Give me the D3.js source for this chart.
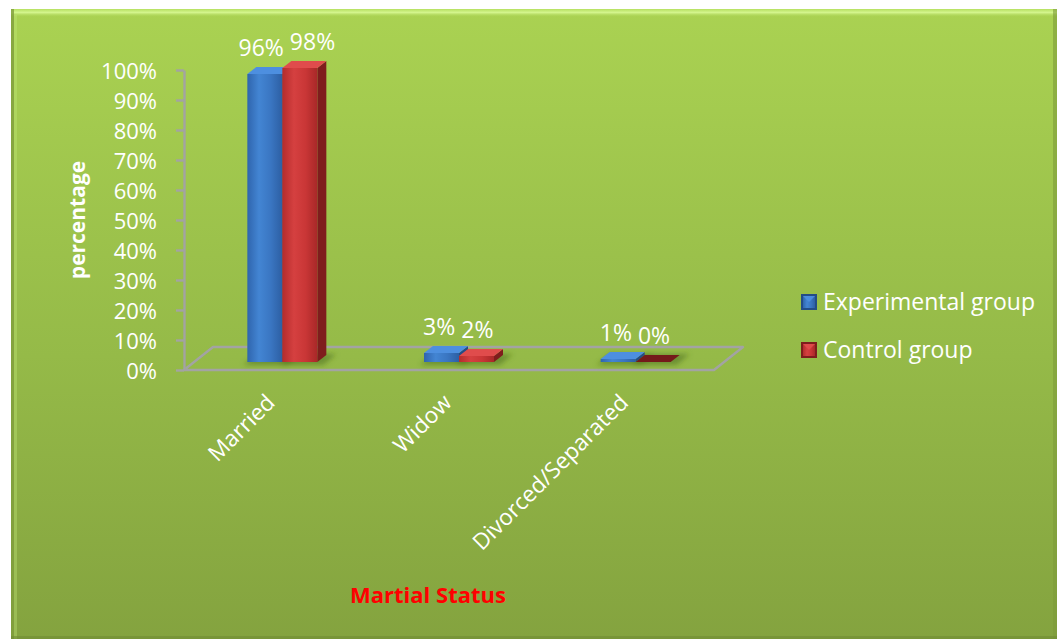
<!DOCTYPE html>
<html>
<head>
<meta charset="utf-8">
<script src="https://cdn.jsdelivr.net/npm/d3@7"></script>
<style>
  html, body { margin: 0; padding: 0; background: #ffffff; }
  svg { display: block; }
  text { font-family: "Open Sans", Lato, sans-serif; }
</style>
</head>
<body>
<svg id="chart" width="1057" height="639"></svg>
<script>
// Marital status of the two study groups (percent)
const categories = ["Married", "Widow", "Divorced/Separated"];
const experimental = [96, 3, 1];
const control = [98, 2, 0];
const seriesNames = ["Experimental group", "Control group"];
const yTicks = [0, 10, 20, 30, 40, 50, 60, 70, 80, 90, 100];
const axisTitle = "percentage";
const chartTitle = "Martial Status";

const W = 1057, H = 639;
const FONT = "'Open Sans', Lato, sans-serif";
const svg = d3.select("#chart");
const defs = svg.append("defs");

// ---- panel background ----
const bg = defs.append("linearGradient").attr("id", "bg")
  .attr("x1", 0).attr("y1", 0).attr("x2", 0).attr("y2", 1);
bg.append("stop").attr("offset", "0%").attr("stop-color", "#aad252");
bg.append("stop").attr("offset", "55%").attr("stop-color", "#95ba48");
bg.append("stop").attr("offset", "100%").attr("stop-color", "#84a33f");

const panel = { x: 11, y: 9, w: W - 11, h: H - 9 };
svg.append("rect").attr("x", panel.x).attr("y", panel.y)
  .attr("width", panel.w).attr("height", panel.h).attr("fill", "url(#bg)");
// bevelled rim
const topRim = defs.append("linearGradient").attr("id", "topRim")
  .attr("x1", 0).attr("y1", 0).attr("x2", 0).attr("y2", 1);
topRim.append("stop").attr("offset", "0%").attr("stop-color", "#b6e060");
topRim.append("stop").attr("offset", "45%").attr("stop-color", "#d4f58e");
topRim.append("stop").attr("offset", "100%").attr("stop-color", "#acd454").attr("stop-opacity", 0);
svg.append("rect").attr("x", panel.x).attr("y", panel.y)
  .attr("width", panel.w).attr("height", 8).attr("fill", "url(#topRim)");
svg.append("rect").attr("x", panel.x).attr("y", panel.y)
  .attr("width", 3).attr("height", panel.h).attr("fill", "#7f9d3c").attr("opacity", 0.8);
svg.append("rect").attr("x", panel.x + 3).attr("y", panel.y + 6)
  .attr("width", 3).attr("height", panel.h).attr("fill", "#c4e87a").attr("opacity", 0.35);
svg.append("rect").attr("x", W - 4).attr("y", panel.y)
  .attr("width", 4).attr("height", panel.h).attr("fill", "#7d9b3a").attr("opacity", 0.6);
svg.append("rect").attr("x", panel.x).attr("y", H - 3)
  .attr("width", panel.w).attr("height", 3).attr("fill", "#6f8c33").attr("opacity", 0.6);

// ---- scales ----
const floorFront = { x0: 184, x1: 714, y: 370 };
const floorDepth = { dx: 29, dy: -23 };
const barOffset = { dx: 10, dy: -8 };   // bar front face inside the floor
const barDepth = { dx: 9, dy: -7 };

const x = d3.scaleBand().domain(categories).range([floorFront.x0, floorFront.x1]);
const y = d3.scaleLinear().domain([0, 100]).range([floorFront.y, 70]);
const pairWidth = 70;
const xs = d3.scaleBand().domain([0, 1]).range([0, pairWidth]);

// ---- floor ----
const gridColor = "#a3a3a3";
const floorPts = [
  [floorFront.x0, floorFront.y],
  [floorFront.x1, floorFront.y],
  [floorFront.x1 + floorDepth.dx, floorFront.y + floorDepth.dy],
  [floorFront.x0 + floorDepth.dx, floorFront.y + floorDepth.dy]
];
svg.append("polygon").attr("points", floorPts.map(p => p.join(",")).join(" "))
  .attr("fill", "none").attr("stroke", gridColor).attr("stroke-width", 2.4)
  .attr("stroke-linejoin", "round");

// ---- value axis ----
const axis = d3.axisLeft(y).tickValues(yTicks)
  .tickFormat(d => d + "%").tickSize(8).tickSizeOuter(0).tickPadding(19);
const axG = svg.append("g").attr("transform", `translate(${floorFront.x0},0)`).call(axis);
axG.select(".domain").attr("stroke", gridColor).attr("stroke-width", 2.4);
axG.selectAll(".tick line").attr("stroke", gridColor).attr("stroke-width", 2.4);
axG.selectAll(".tick text").attr("fill", "#ffffff").attr("font-size", 22)
  .attr("font-family", FONT).attr("dy", "0.38em");

// ---- bars ----
const palette = [
  { front: ["#2f65ad", "#4385d3", "#3a76c2", "#2d5fa3"], top: "#4d8fe0", side: "#234d87", dark: "#1f4478" },
  { front: ["#b42c2c", "#d54040", "#c93636", "#a82828"], top: "#e04c4c", side: "#7f1d1d", dark: "#741a1a" }
];
palette.forEach((p, i) => {
  const g = defs.append("linearGradient").attr("id", "front" + i)
    .attr("x1", 0).attr("y1", 0).attr("x2", 1).attr("y2", 0);
  p.front.forEach((c, k) => g.append("stop")
    .attr("offset", (k / (p.front.length - 1) * 100) + "%").attr("stop-color", c));
});
const blur = defs.append("filter").attr("id", "shadowBlur")
  .attr("x", "-50%").attr("y", "-50%").attr("width", "200%").attr("height", "200%");
blur.append("feGaussianBlur").attr("stdDeviation", 2.5);

const bars = [];
categories.forEach((c, ci) => {
  [experimental[ci], control[ci]].forEach((v, si) => {
    const x0 = x(c) + (x.bandwidth() - pairWidth) / 2 + xs(si) + barOffset.dx;
    const x1 = x0 + xs.bandwidth();
    const yb = y(0) + barOffset.dy;
    const yt = y(v) + barOffset.dy;
    bars.push({ c, ci, si, v, x0, x1, yb, yt });
  });
});

const pts = arr => arr.map(p => p.join(",")).join(" ");
const shadowG = svg.append("g").attr("filter", "url(#shadowBlur)");
const barG = svg.append("g");

bars.forEach(b => {
  const p = palette[b.si];
  const dx = barDepth.dx, dy = barDepth.dy;
  // soft footprint shadow
  shadowG.append("polygon")
    .attr("points", pts([
      [b.x0 - 4, b.yb + 3], [b.x1 + 6, b.yb + 3],
      [b.x1 + dx + 10, b.yb + dy - 1], [b.x0 + dx, b.yb + dy - 1]
    ]))
    .attr("fill", "#4d6e1c").attr("opacity", 0.55);
  // side face
  barG.append("polygon")
    .attr("points", pts([[b.x1, b.yb], [b.x1 + dx, b.yb + dy], [b.x1 + dx, b.yt + dy], [b.x1, b.yt]]))
    .attr("fill", p.side);
  // front face
  barG.append("rect").attr("x", b.x0).attr("y", b.yt)
    .attr("width", b.x1 - b.x0).attr("height", Math.max(0, b.yb - b.yt))
    .attr("fill", `url(#front${b.si})`);
  // top face
  barG.append("polygon")
    .attr("points", pts([[b.x0, b.yt], [b.x1, b.yt], [b.x1 + dx, b.yt + dy], [b.x0 + dx, b.yt + dy]]))
    .attr("fill", b.v === 0 ? p.dark : p.top);
});

// ---- value labels (pushed apart when a pair would overlap) ----
const labelG = svg.append("g");
categories.forEach((c, ci) => {
  const pair = bars.filter(b => b.ci === ci);
  const texts = pair.map(b => labelG.append("text")
    .attr("y", b.yt - 18)
    .attr("text-anchor", "middle").attr("fill", "#ffffff").attr("font-size", 23)
    .text(b.v + "%"));
  const widths = texts.map(t => t.node().getComputedTextLength());
  let cx = pair.map(b => (b.x0 + b.x1) / 2 - 2);
  const need = (widths[0] + widths[1]) / 2 + 6;
  const deficit = need - (cx[1] - cx[0]);
  if (deficit > 0) { cx[0] -= deficit * 0.1; cx[1] += deficit * 0.9; }
  texts.forEach((t, i) => t.attr("x", cx[i]));
});

// ---- category labels ----
categories.forEach(c => {
  const ax = x(c) + x.bandwidth() / 2 + 4;
  const ay = 404;
  svg.append("text")
    .attr("transform", `translate(${ax},${ay}) rotate(-45)`)
    .attr("text-anchor", "end").attr("fill", "#ffffff").attr("font-size", 22.5)
    .text(c);
});

// ---- axis title ----
svg.append("text")
  .attr("transform", `translate(85,${(y(0) + y(100)) / 2}) rotate(-90)`)
  .attr("text-anchor", "middle").attr("fill", "#ffffff")
  .attr("font-size", 21).attr("font-weight", "bold")
  .text(axisTitle);

// ---- chart title ----
svg.append("text")
  .attr("x", 428).attr("y", 603)
  .attr("text-anchor", "middle").attr("fill", "#ff0000")
  .attr("font-size", 22).attr("font-weight", "bold")
  .text(chartTitle);

// ---- legend ----
const legend = svg.append("g").attr("transform", "translate(801,294)");
seriesNames.forEach((name, i) => {
  const p = palette[i];
  const g = legend.append("g").attr("transform", `translate(0,${i * 48})`);
  g.append("rect").attr("x", 0).attr("y", 0).attr("width", 16).attr("height", 16)
    .attr("fill", p.side);
  g.append("rect").attr("x", 2).attr("y", 2).attr("width", 12).attr("height", 12)
    .attr("fill", `url(#front${i})`);
  g.append("polygon").attr("points", pts([[2, 2], [14, 2], [8, 8]]))
    .attr("fill", p.top).attr("opacity", 0.9);
  g.append("text").attr("x", 22).attr("y", 16)
    .attr("fill", "#ffffff").attr("font-size", 23)
    .text(name);
});
</script>
</body>
</html>
